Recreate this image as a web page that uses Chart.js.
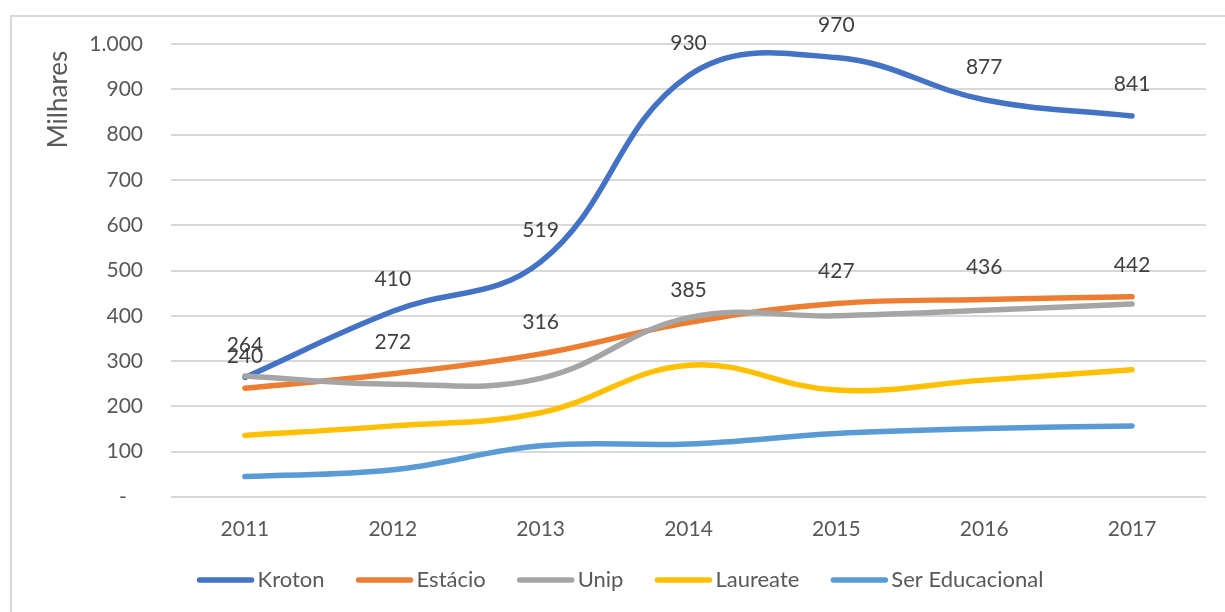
<!DOCTYPE html>
<html>
<head>
<meta charset="utf-8">
<script src="https://cdn.jsdelivr.net/npm/chart.js@4/dist/chart.umd.min.js"></script>
<style>
  html, body { margin: 0; padding: 0; background: #fff; overflow: hidden; }
  .frame { position: absolute; left: 10px; top: 15px; width: 1240px; height: 640px; border: 2px solid #d9d9d9; }
  .wrap { position: absolute; left: 0; top: 0; width: 1225px; height: 612px; }
</style>
</head>
<body>
<div class="frame"></div>
<div class="wrap"><canvas id="chart"></canvas></div>
<script>
// valores em milhares
const years = ['2011', '2012', '2013', '2014', '2015', '2016', '2017'];
const kroton = [264, 410, 519, 930, 970, 877, 841];
const estacio = [240, 272, 316, 385, 427, 436, 442];
const unip = [267, 249, 262, 396, 400, 412, 426];
const laureate = [136, 157, 186, 291, 236, 258, 281];
const serEducacional = [45, 60, 113, 117, 140, 151, 157];

const FONT = 'Lato, "Open Sans", sans-serif';

const fmt = v => {
  if (v === 0) return '-   ';
  return String(v).replace(/\B(?=(\d{3})+(?!\d))/g, '.');
};

const line = (label, data, color, order, showLabels) => ({
  label, data, order, showLabels,
  borderColor: color,
  backgroundColor: color,
  borderWidth: 5.5,
  borderCapStyle: 'round',
  borderJoinStyle: 'round',
  pointRadius: 0,
  pointHoverRadius: 0,
  tension: 0.4,
  fill: false
});

// rótulos de dados acima dos pontos
const valueLabels = {
  id: 'valueLabels',
  afterDatasetsDraw(chart) {
    const ctx = chart.ctx;
    ctx.save();
    ctx.font = '21px ' + FONT;
    ctx.fillStyle = '#404040';
    ctx.textAlign = 'center';
    ctx.textBaseline = 'middle';
    chart.data.datasets.forEach((ds, i) => {
      if (!ds.showLabels) return;
      chart.getDatasetMeta(i).data.forEach((pt, j) => {
        ctx.fillText(String(ds.data[j]), pt.x, pt.y - 32);
      });
    });
    ctx.restore();
  }
};

// legenda estilo Excel (linha curta + texto colado)
const excelLegend = {
  id: 'excelLegend',
  afterDraw(chart, args, opts) {
    const ctx = chart.ctx;
    const sets = chart.data.datasets;
    ctx.save();
    ctx.font = opts.size + 'px ' + FONT;
    const widths = sets.map(ds => opts.lineLen + opts.textGap + ctx.measureText(ds.label).width);
    const total = widths.reduce((a, b) => a + b, 0) + opts.itemGap * (sets.length - 1);
    let x = opts.centerX - total / 2;
    const y = opts.y;
    ctx.textBaseline = 'middle';
    ctx.textAlign = 'left';
    sets.forEach((ds, i) => {
      ctx.strokeStyle = ds.borderColor;
      ctx.lineWidth = 5.5;
      ctx.lineCap = 'round';
      ctx.beginPath();
      ctx.moveTo(x + 3, y);
      ctx.lineTo(x + opts.lineLen - 3, y);
      ctx.stroke();
      ctx.fillStyle = '#595959';
      ctx.fillText(ds.label, x + opts.lineLen + opts.textGap, y);
      x += widths[i] + opts.itemGap;
    });
    ctx.restore();
  }
};

new Chart(document.getElementById('chart'), {
  type: 'line',
  data: {
    labels: years,
    datasets: [
      line('Kroton', kroton, '#4472C4', 5, true),
      line('Estácio', estacio, '#ED7D31', 4, true),
      line('Unip', unip, '#A5A5A5', 3, false),
      line('Laureate', laureate, '#FFC000', 2, false),
      line('Ser Educacional', serEducacional, '#5B9BD5', 1, false)
    ]
  },
  options: {
    responsive: true,
    maintainAspectRatio: false,
    animation: false,
    layout: { padding: { left: 0, right: 19, top: 44, bottom: 75 } },
    plugins: {
      tooltip: { enabled: false },
      legend: { display: false },
      excelLegend: { centerX: 620, y: 580, size: 22, lineLen: 58, textGap: 3, itemGap: 31 }
    },
    scales: {
      x: {
        offset: true,
        afterFit: s => { s.height = 40; },
        grid: { display: false, drawTicks: false },
        border: { display: false },
        ticks: { padding: 20, color: '#595959', font: { family: FONT, size: 21 } }
      },
      y: {
        min: 0,
        max: 1000,
        afterFit: s => { s.width = 171; },
        grid: { color: '#d9d9d9', lineWidth: 2, drawTicks: false },
        border: { display: false },
        ticks: {
          stepSize: 100,
          padding: 28,
          color: '#595959',
          font: { family: FONT, size: 21 },
          callback: v => fmt(v)
        },
        title: {
          display: true,
          text: 'Milhares ',
          align: 'end',
          color: '#595959',
          font: { family: FONT, size: 26 },
          padding: { top: 43, bottom: 0 }
        }
      }
    }
  },
  plugins: [valueLabels, excelLegend]
});
</script>
</body>
</html>
